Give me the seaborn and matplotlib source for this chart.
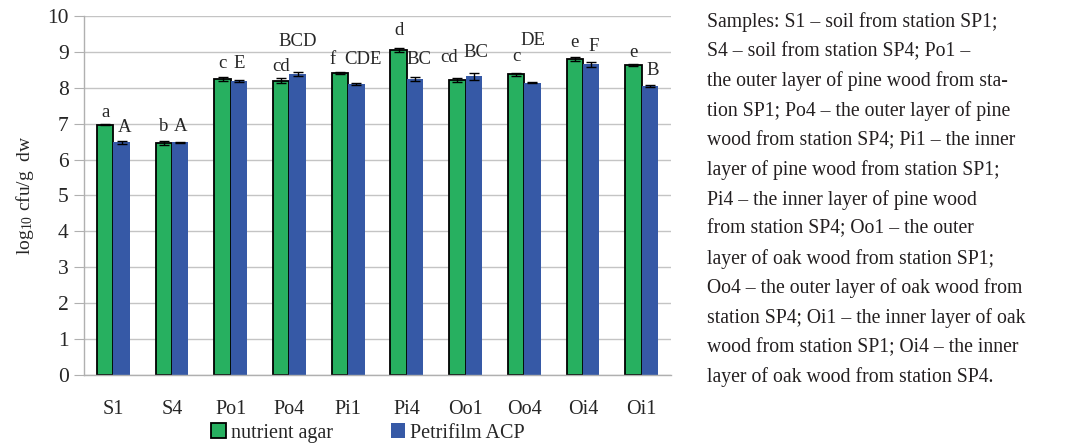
import numpy as np
import pandas as pd
import matplotlib
matplotlib.use("Agg")
import matplotlib.pyplot as plt
import seaborn as sns

samples = ["S1", "S4", "Po1", "Po4", "Pi1", "Pi4", "Oo1", "Oo4", "Oi4", "Oi1"]
nutrient_agar = [6.97, 6.47, 8.24, 8.20, 8.42, 9.05, 8.21, 8.38, 8.81, 8.63]
petrifilm_acp = [6.48, 6.48, 8.18, 8.39, 8.11, 8.24, 8.32, 8.14, 8.65, 8.05]
err_agar = [0.01, 0.05, 0.06, 0.07, 0.03, 0.06, 0.05, 0.04, 0.05, 0.02]
err_acp = [0.04, 0.01, 0.03, 0.05, 0.03, 0.06, 0.09, 0.01, 0.08, 0.04]
letters_agar = ["a", "b", "c", "cd", "f", "d", "cd", "c", "e", "e"]
letters_acp = ["A", "A", "E", "BCD", "CDE", "BC", "BC", "DE", "F", "B"]

note_lines = [
    "Samples: S1 \u2013 soil from station SP1;",
    "S4 \u2013 soil from station SP4; Po1 \u2013",
    "the outer layer of pine wood from sta-",
    "tion SP1; Po4 \u2013 the outer layer of pine",
    "wood from station SP4; Pi1 \u2013 the inner",
    "layer of pine wood from station SP1;",
    "Pi4 \u2013 the inner layer of pine wood",
    "from station SP4; Oo1 \u2013 the outer",
    "layer of oak wood from station SP1;",
    "Oo4 \u2013 the outer layer of oak wood from",
    "station SP4; Oi1 \u2013 the inner layer of oak",
    "wood from station SP1; Oi4 \u2013 the inner",
    "layer of oak wood from station SP4.",
]

media = ["nutrient agar", "Petrifilm ACP"]
df = pd.DataFrame({
    "sample": samples * 2,
    "medium": [media[0]] * len(samples) + [media[1]] * len(samples),
    "value": nutrient_agar + petrifilm_acp,
})

sns.set_style("white")
plt.rcParams["font.family"] = ["Liberation Serif", "DejaVu Serif"]
plt.rcParams["mathtext.default"] = "regular"

green = "#27b060"
blue = "#3659a6"

fig = plt.figure(figsize=(10.67, 4.43), dpi=100)
ax = fig.add_axes([0.0787, 0.1535, 0.5502, 0.8104])

sns.barplot(data=df, x="sample", y="value", hue="medium", hue_order=media,
            palette=[green, blue], width=0.56, gap=0, errorbar=None,
            saturation=1, ax=ax, legend=False)

for bar in ax.containers[0]:
    bar.set_edgecolor("black")
    bar.set_linewidth(1.3)
for bar in ax.containers[1]:
    bar.set_edgecolor("none")

# error bars and significance letters on top of the bars
off_agar = [0.33, 0.45, 0.44, 0.40, 0.36, 0.55, 0.62, 0.48, 0.45, 0.34]
off_acp = [0.42, 0.44, 0.49, 0.90, 0.67, 0.56, 0.65, 1.19, 0.51, 0.43]
dx_agar = [0, 0, 0, 0, -0.12, 0, -0.14, 0, 0, 0]
dx_acp = [0.05, 0, 0, 0, 0.12, 0.07, 0.03, 0, 0.05, 0.04]
for cont, errs, labs, offs, dxs in [
        (ax.containers[0], err_agar, letters_agar, off_agar, dx_agar),
        (ax.containers[1], err_acp, letters_acp, off_acp, dx_acp)]:
    xs = [b.get_x() + b.get_width() / 2 for b in cont]
    ys = [b.get_height() for b in cont]
    ax.errorbar(xs, ys, yerr=errs, fmt="none", ecolor="black",
                elinewidth=1, capsize=3.5, capthick=1, zorder=5)
    for x, y, lab, o, d in zip(xs, ys, labs, offs, dxs):
        ax.text(x + d, y + o, lab, ha="center", va="center", fontsize=13.5)

ax.set_ylim(0, 10)
ax.set_xlim(-0.5, len(samples) - 0.5)
ax.set_yticks(range(0, 11))
ax.yaxis.grid(True, color="#c4c4c4", linewidth=1)
ax.set_axisbelow(True)
for s in ["top", "right"]:
    ax.spines[s].set_visible(False)
for s in ["left", "bottom"]:
    ax.spines[s].set_color("#b0b0b0")
    ax.spines[s].set_linewidth(1)

ax.set_xticks(np.arange(-0.5, len(samples)), minor=True)
ax.tick_params(axis="x", which="major", length=0, pad=18, labelsize=14.5)
ax.tick_params(axis="x", which="minor", length=6, color="#b0b0b0", direction="out")
ax.tick_params(axis="y", length=7, color="#b0b0b0", labelsize=15.5, pad=4, left=True)
ax.set_xlabel("")
ax.set_ylabel("log$_{10}$ cfu/g  dw", fontsize=14, labelpad=8)

handles = [plt.Rectangle((0, 0), 1, 1, facecolor=green, edgecolor="black", linewidth=1.3),
           plt.Rectangle((0, 0), 1, 1, facecolor=blue, edgecolor="none")]
fig.legend(handles, media, loc="lower center", bbox_to_anchor=(0.345, -0.04),
           ncol=2, frameon=False, fontsize=14.5, handlelength=0.7, handleheight=0.8,
           handletextpad=0.25, columnspacing=2.9)

for i, line in enumerate(note_lines):
    fig.text(707 / 1067, 1 - (22 + i * 29.6) / 443, line, ha="left", va="center",
             fontsize=14.2, color="#231f20")

fig.savefig("out.png", dpi=100)
